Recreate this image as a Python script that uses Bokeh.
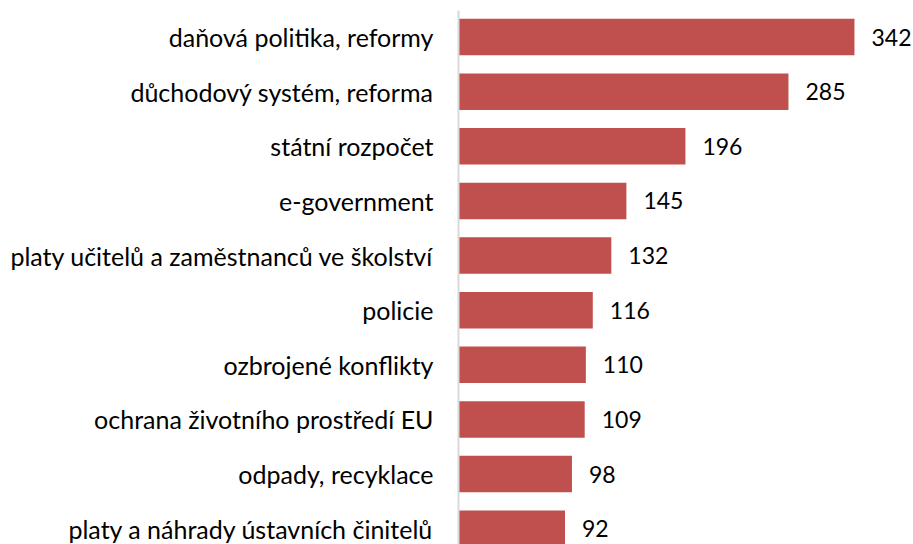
from bokeh.plotting import figure
from bokeh.models import ColumnDataSource, Range1d, FixedTicker
from bokeh.core.properties import value
from bokeh.embed import file_html
from bokeh.resources import INLINE

categories = [
    "daňová politika, reformy",
    "důchodový systém, reforma",
    "státní rozpočet",
    "e-government",
    "platy učitelů a zaměstnanců ve školství",
    "policie",
    "ozbrojené konflikty",
    "ochrana životního prostředí EU",
    "odpady, recyklace",
    "platy a náhrady ústavních činitelů",
]
counts = [342, 285, 196, 145, 132, 116, 110, 109, 98, 92]

FONT = "Lato"
BAR = "#C0504D"

pos = list(range(len(categories)))
src = ColumnDataSource(dict(y=pos, v=counts, lab=[str(c) for c in counts]))

p = figure(width=913, height=544, output_backend="svg", toolbar_location=None,
           x_range=Range1d(0, 393), y_range=Range1d(9.288, -0.485),
           min_border_left=458, min_border_right=0, min_border_top=10, min_border_bottom=0)
p.outline_line_color = None
p.grid.visible = False
p.xaxis.visible = False
p.background_fill_color = "white"
p.border_fill_color = "white"

p.hbar(y="y", right="v", left=0, height=0.668, source=src, fill_color=BAR, line_color=None)
p.text(x="v", y="y", text="lab", source=src, x_offset=17, text_align="left",
       text_baseline="middle", text_font=value(FONT), text_font_size="23px", text_color="#000000")

ax = p.yaxis[0]
ax.ticker = FixedTicker(ticks=pos)
ax.major_label_overrides = {i: c for i, c in zip(pos, categories)}
ax.major_tick_line_color = None
ax.minor_tick_line_color = None
ax.major_tick_out = 0
ax.major_tick_in = 0
ax.axis_line_color = "#D9D9D9"
ax.axis_line_width = 2
ax.major_label_standoff = 25
ax.major_label_text_font = FONT
ax.major_label_text_font_size = "25px"
ax.major_label_text_color = "#000000"

open("out.html", "w").write(file_html(p, INLINE))
